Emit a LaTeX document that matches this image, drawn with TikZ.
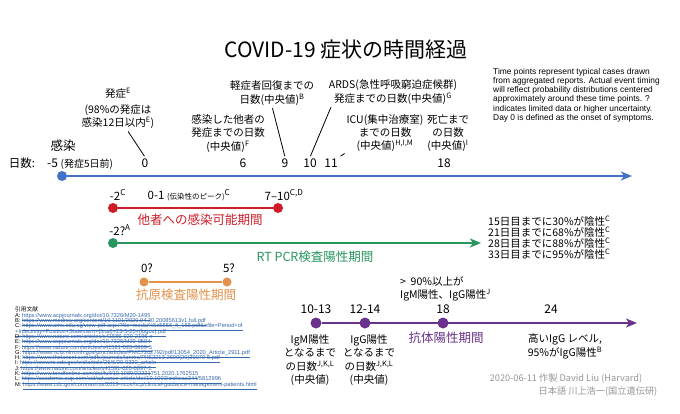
\documentclass[tikz,border=0pt]{standalone}
\usepackage{fontspec}
\setmainfont{Noto Sans CJK JP}
\newfontfamily\latinfont{Liberation Sans}
\usetikzlibrary{arrows.meta}

\definecolor{tlblue}{RGB}{68,114,196}
\definecolor{tlred}{RGB}{205,30,40}
\definecolor{tlgreen}{RGB}{40,150,95}
\definecolor{tlorange}{RGB}{228,145,75}
\definecolor{tlpurple}{RGB}{105,50,140}
\definecolor{creditgray}{RGB}{150,150,150}
\definecolor{refblue}{RGB}{55,105,175}

\newcommand{\fs}[2]{\fontsize{#1}{#2}\selectfont}
\newcommand{\tightlines}{\lineskiplimit -20pt\relax\lineskip 0pt\relax}

\begin{document}
\begin{tikzpicture}[x=1pt,y=-1pt,
    every node/.style={inner sep=1pt},
    lbl/.style={align=center, font=\fs{10.5}{13.3}},
    daynum/.style={anchor=base, font=\fs{12}{12}},
    barlbl/.style={font=\fs{11.5}{12}},
    period/.style={font=\fs{12.5}{13}},
    dot/.style={circle, inner sep=0pt, minimum size=10pt},
    bar/.style={line width=2pt},
    bararrow/.style={line width=2pt, -{Stealth[length=11pt,width=9pt,inset=3pt]}},
    leader/.style={line width=0.8pt, shorten <=2pt, shorten >=1pt}]
    \useasboundingbox[fill=white] (0,0) rectangle (680,413);

    % Title
    \node[font=\fs{21}{21}] (title) at (346,50) {COVID-19 症状の時間経過};

    % Note
    \node[anchor=north west, align=left, inner sep=0pt, font=\latinfont\fs{8.4}{9.2}] (note) at (493,68)
        {Time points represent typical cases drawn\\
         from aggregated reports. Actual event timing\\
         will reflect probability distributions centered\\
         approximately around these time points. ?\\
         indicates limited data or higher uncertainty.\\
         Day 0 is defined as the onset of symptoms.};

    % Main timeline
    \node[dot, fill=tlblue] (inf) at (62,176) {};
    \coordinate (blueend) at (632,176);
    \draw[bararrow, tlblue] (inf) -- (blueend);
    \node[font=\fs{12.5}{13}] (inflbl) at (63,146) {感染};
    \node[anchor=base, font=\fs{11.5}{12}] (daylbl) at (22,167) {日数:};
    \node[anchor=base west, font=\fs{12}{12}] (dm5) at (46,167) {-5 {\fs{10}{10}(発症5日前)}};

    % Day numbers
    \node[daynum] (d0) at (145,167) {0};
    \node[daynum] (d6) at (243,167) {6};
    \node[daynum] (d9) at (285,167) {9};
    \node[daynum] (d10) at (310,167) {10};
    \node[daynum] (d11) at (331,167) {11};
    \node[daynum] (d18) at (444,167) {18};

    % Labels above the timeline
    \node[lbl] (onset) at (118,93) {発症\textsuperscript{E}};
    \node[lbl] (onsetnote) at (118,116.5) {(98\%の発症は\\感染12日以内\textsuperscript{E})};
    \node[lbl] (secinf) at (228,133.5) {感染した他者の\\発症までの日数\\(中央値)\textsuperscript{F}};
    \node[lbl] (mild) at (272,93) {軽症者回復までの\\日数(中央値)\textsuperscript{B}};
    \node[lbl] (ards) at (393,92) {ARDS(急性呼吸窮迫症候群)\\発症までの日数(中央値)\textsuperscript{G}};
    \node[lbl] (icu) at (385,133) {ICU(集中治療室)\\までの日数\\(中央値)\textsuperscript{H,I,M}};
    \node[lbl] (death) at (448,133) {死亡まで\\の日数\\(中央値)\textsuperscript{I}};

    % Leader lines
    \draw[leader] ([xshift=9pt]onsetnote.south) -- (d0.north);
    \draw[leader] (mild.south) -- (d9.north);
    \draw[leader] ([xshift=4pt]ards.south west) -- (d10.north);
    \draw[leader] (d11.north east) -- (icu.south west);

    % Infectious period
    \node[dot, fill=tlred] (r1) at (113,208) {};
    \node[dot, fill=tlred] (r2) at (278,208) {};
    \draw[bar, tlred] (r1) -- (r2);
    \node[barlbl] (rm2) at (118,195) {-2\textsuperscript{C}};
    \node[barlbl] (rpeak) at (189,195) {0-1 {\fs{7.5}{8}(伝染性のピーク)}\textsuperscript{C}};
    \node[barlbl] (r710) at (284,195) {7--10\textsuperscript{C,D}};
    \node[period, text=tlred] (rlbl) at (200,220) {他者への感染可能期間};

    % RT PCR period
    \node[dot, fill=tlgreen] (g1) at (113,243) {};
    \coordinate (gend) at (481,243);
    \draw[bararrow, tlgreen] (g1) -- (gend);
    \node[barlbl] (gm2) at (120,230) {-2?\textsuperscript{A}};
    \node[period, text=tlgreen] (glbl) at (315,257) {RT PCR検査陽性期間};
    \node[anchor=north west, align=left, inner sep=0pt, font=\fs{10.5}{10.8}] (neg) at (488,216)
        {15日目までに30\%が陰性\textsuperscript{C}\\
         21日目までに68\%が陰性\textsuperscript{C}\\
         28日目までに88\%が陰性\textsuperscript{C}\\
         33日目までに95\%が陰性\textsuperscript{C}};

    % Antigen period
    \node[dot, fill=tlorange, minimum size=9pt] (o1) at (144,282) {};
    \node[dot, fill=tlorange, minimum size=9pt] (o2) at (227,282) {};
    \draw[bar, tlorange] (o1) -- (o2);
    \node[barlbl] (o0) at (147,268) {0?};
    \node[barlbl] (o5) at (229,268) {5?};
    \node[period, text=tlorange] (olbl) at (186,295) {抗原検査陽性期間};

    % Antibody period
    \node[dot, fill=tlpurple, minimum size=11pt] (p1) at (316,323) {};
    \node[dot, fill=tlpurple, minimum size=11pt] (p2) at (365,323) {};
    \node[dot, fill=tlpurple, minimum size=11pt] (p3) at (443,323) {};
    \coordinate (pend) at (637,323);
    \draw[bararrow, tlpurple] (p1) -- (pend);
    \node[font=\fs{12}{12}] (p1013) at (316,309) {10-13};
    \node[font=\fs{12}{12}] (p1214) at (365,309) {12-14};
    \node[font=\fs{12}{12}] (p18) at (443,309) {18};
    \node[font=\fs{12}{12}] (p24) at (551,309) {24};
    \node[anchor=north west, align=left, inner sep=0pt, font=\fs{10.5}{13}] (ninety) at (400,276)
        {>\ \ 90\%以上が\\IgM陽性、IgG陽性\textsuperscript{J}};
    \node[lbl] (igm) at (310,360) {IgM陽性\\となるまで\\の日数\textsuperscript{J,K,L}\\(中央値)};
    \node[lbl] (igg) at (369,360) {IgG陽性\\となるまで\\の日数\textsuperscript{J,K,L}\\(中央値)};
    \node[period, text=tlpurple] (plbl) at (446,338) {抗体陽性期間};
    \node[lbl] (highigg) at (565,346.5) {高いIgG レベル,\\95\%がIgG陽性\textsuperscript{B}};

    % Credits
    \node[font=\fs{9.2}{10}, text=creditgray] (made) at (566,379) {2020-06-11 作製 David Liu (Harvard)};
    \node[font=\fs{9.2}{10}, text=creditgray] (trans) at (598,392) {日本語 川上浩一(国立遺伝研)};

    % References
    \node[anchor=north west, align=left, inner sep=0pt,
          font={\latinfont\fs{5.7}{5.3}\tightlines}] (refs) at (15,307)
        {{\normalfont 引用文献}\\
         A: \textcolor{refblue}{\underline{https://www.acpjournals.org/doi/10.7326/M20-1495}}\\
         B: \textcolor{refblue}{\underline{https://www.medrxiv.org/content/10.1101/2020.04.30.20085613v1.full.pdf}}\\
         C: \textcolor{refblue}{\underline{https://www.ams.edu.sg/view-pdf.aspx?file=media\%5c5556\_fi\_168.pdf\&ofile=Period+of}}\\
         \textcolor{refblue}{\underline{+Infectivity+Position+Statement+(final)+23-5-20+(logos).pdf}}\\
         D: \textcolor{refblue}{\underline{https://www.nature.com/articles/s41586-020-2196-x}}\\
         E: \textcolor{refblue}{\underline{https://www.acpjournals.org/doi/10.7326/M20-0504}}\\
         F: \textcolor{refblue}{\underline{https://www.nature.com/articles/s41591-020-0869-5}}\\
         G: \textcolor{refblue}{\underline{https://www.ncbi.nlm.nih.gov/pmc/articles/PMC7202792/pdf/13054\_2020\_Article\_2911.pdf}}\\
         H: \textcolor{refblue}{\underline{https://www.thelancet.com/pdfs/journals/lanres/PIIS2213-2600(20)30079-5.pdf}}\\
         I: \textcolor{refblue}{\underline{https://wwwnc.cdc.gov/eid/article/26/6/20-0320\_article}}\\
         J: \textcolor{refblue}{\underline{https://www.nature.com/articles/s41591-020-0897-1}}\\
         K: \textcolor{refblue}{\underline{https://www.tandfonline.com/doi/full/10.1080/22221751.2020.1762515}}\\
         L: \textcolor{refblue}{\underline{https://academic.oup.com/cid/advance-article/doi/10.1093/cid/ciaa344/5812996}}\\
         M: \textcolor{refblue}{\underline{https://www.cdc.gov/coronavirus/2019-ncov/hcp/clinical-guidance-management-patients.html}}};
\end{tikzpicture}
\end{document}
